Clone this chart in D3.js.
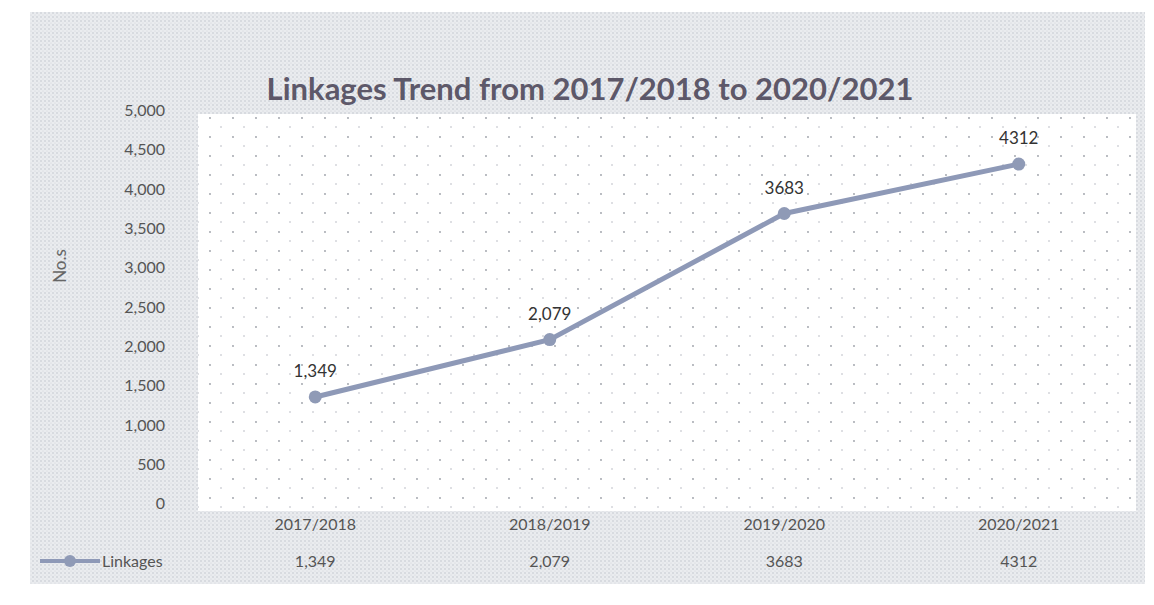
<!DOCTYPE html>
<html><head><meta charset="utf-8">
<script src="https://cdn.jsdelivr.net/npm/d3@7"></script>
<style>html,body{margin:0;padding:0;background:#fff;}svg{display:block;}</style>
</head><body>
<svg id="chart" width="1154" height="605"></svg>
<script>
const categories = ["2017/2018", "2018/2019", "2019/2020", "2020/2021"];
const values = [1349, 2079, 3683, 4312];
const valueLabels = ["1,349", "2,079", "3683", "4312"];
const yTicks = [0, 500, 1000, 1500, 2000, 2500, 3000, 3500, 4000, 4500, 5000];
const seriesName = "Linkages";
const titleText = "Linkages Trend from 2017/2018 to 2020/2021";
const yTitle = "No.s";

const svg = d3.select("#chart");
const font = "Lato, 'Open Sans', sans-serif";
const defs = svg.append("defs");

// halftone-like textures
const pOuter = defs.append("pattern").attr("id","outerTex").attr("width",4).attr("height",4).attr("patternUnits","userSpaceOnUse");
pOuter.append("rect").attr("width",4).attr("height",4).attr("fill","#eaecef");
pOuter.append("circle").attr("cx",1).attr("cy",1).attr("r",0.8).attr("fill","#c2c6ce");
pOuter.append("circle").attr("cx",3).attr("cy",3).attr("r",0.6).attr("fill","#d0d3d9");

const pPlot = defs.append("pattern").attr("id","plotTex").attr("width",23).attr("height",19).attr("patternUnits","userSpaceOnUse");
pPlot.append("rect").attr("width",23).attr("height",19).attr("fill","#ffffff");
pPlot.append("circle").attr("cx",3).attr("cy",4).attr("r",0.9).attr("fill","#9a9ea6");
pPlot.append("circle").attr("cx",14).attr("cy",13).attr("r",0.8).attr("fill","#b4b8bf");

// outer chart background
svg.append("rect").attr("x",30).attr("y",12).attr("width",1115).attr("height",572).attr("fill","url(#outerTex)");

const x = d3.scaleBand().domain(categories).range([198, 1136]);
const y = d3.scaleLinear().domain([0, 5000]).range([503, 110]);

// plot area
svg.append("rect").attr("x",198).attr("y",114).attr("width",938).attr("height",397).attr("fill","url(#plotTex)");

// title
svg.append("text").attr("x",590).attr("y",100).attr("text-anchor","middle")
  .attr("font-family",font).attr("font-size",31).attr("font-weight","bold")
  .attr("fill","#5d5869").text(titleText);

// y axis
const yAxis = d3.axisLeft(y).tickValues(yTicks).tickSize(0).tickPadding(0)
  .tickFormat(d3.format(","));
const gy = svg.append("g").attr("transform","translate(165,0)").call(yAxis);
gy.select(".domain").remove();
gy.selectAll("text").attr("font-family",font).attr("font-size",16).attr("fill","#555").attr("dy","0.35em");

// y title
svg.append("text").attr("transform","translate(66,266) rotate(-90)").attr("text-anchor","middle")
  .attr("font-family",font).attr("font-size",17).attr("fill","#666").text(yTitle);

// line
const cx = d => x(d) + x.bandwidth()/2;
const line = d3.line().x((d,i)=>cx(categories[i])).y(d=>y(d));
svg.append("path").datum(values).attr("d",line).attr("fill","none")
  .attr("stroke","#8e99b7").attr("stroke-width",5).attr("stroke-linejoin","round");
svg.selectAll("circle.pt").data(values).join("circle").attr("class","pt")
  .attr("cx",(d,i)=>cx(categories[i])).attr("cy",d=>y(d)).attr("r",6.5).attr("fill","#8f9ab6");

// data labels
svg.selectAll("text.dl").data(values).join("text").attr("class","dl")
  .attr("x",(d,i)=>cx(categories[i])).attr("y",d=>y(d)-20)
  .attr("text-anchor","middle").attr("font-family",font).attr("font-size",17).attr("fill","#333")
  .text((d,i)=>valueLabels[i]);

// data table: categories row
const xAxis = d3.axisBottom(x).tickSize(0).tickPadding(0);
const gx = svg.append("g").attr("transform","translate(0,519)").call(xAxis);
gx.select(".domain").remove();
gx.selectAll("text").attr("font-family",font).attr("font-size",16).attr("fill","#555").attr("dy","0.71em");

// values row
svg.selectAll("text.tv").data(values).join("text").attr("class","tv")
  .attr("x",(d,i)=>cx(categories[i])).attr("y",567)
  .attr("text-anchor","middle").attr("font-family",font).attr("font-size",16).attr("fill","#555")
  .text((d,i)=>valueLabels[i]);

// legend key
svg.append("line").attr("x1",40).attr("x2",100).attr("y1",561).attr("y2",561).attr("stroke","#8e99b7").attr("stroke-width",4);
svg.append("circle").attr("cx",70).attr("cy",561).attr("r",6).attr("fill","#8f9ab6");
svg.append("text").attr("x",102).attr("y",567).attr("font-family",font).attr("font-size",16).attr("fill","#555").text(seriesName);
</script>
</body></html>
